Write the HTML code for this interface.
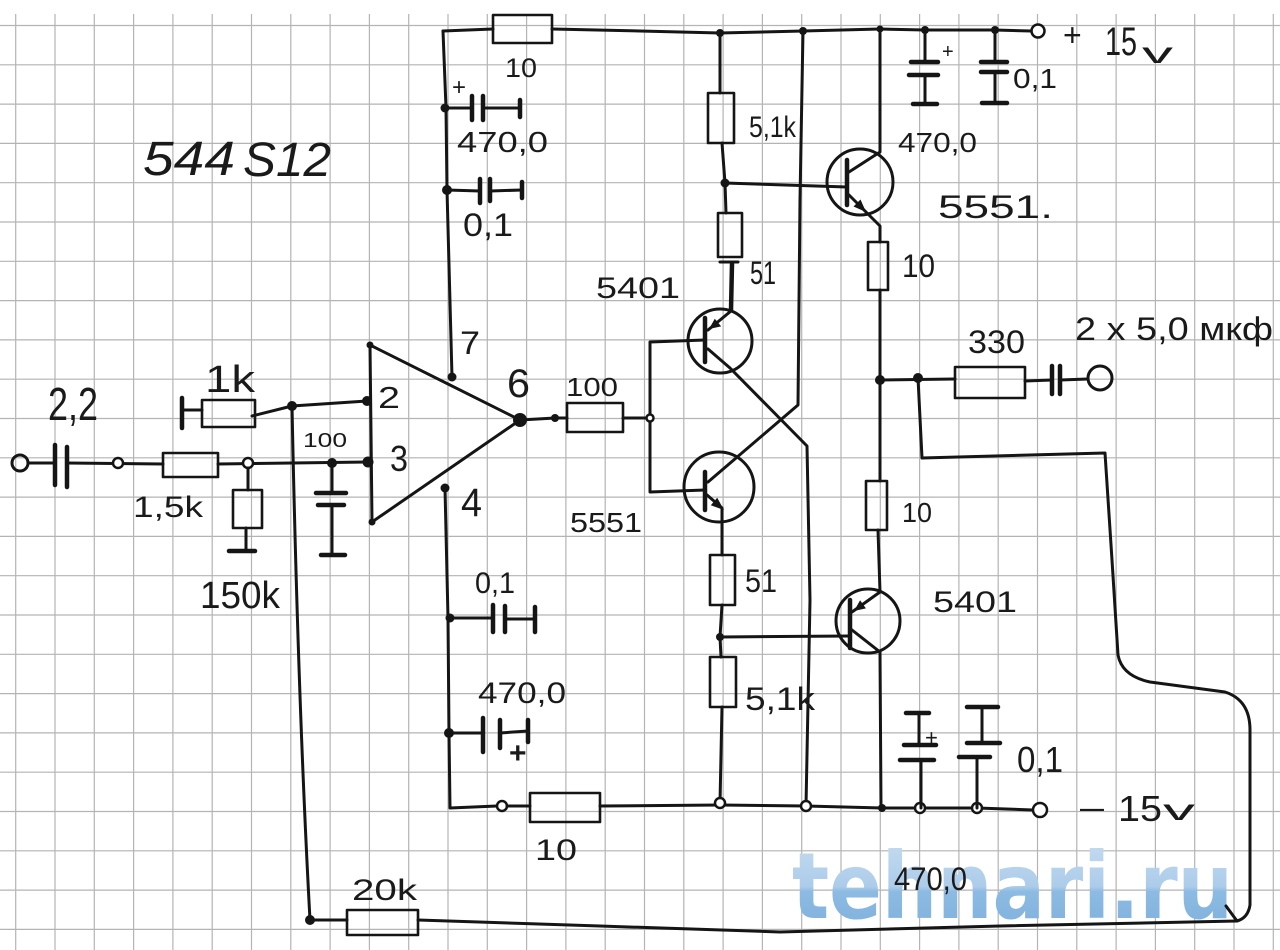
<!DOCTYPE html>
<html>
<head>
<meta charset="utf-8">
<style>
  html,body{margin:0;padding:0;background:#fff;}
  svg{display:block;}
  .w{fill:none;stroke:#151515;stroke-width:3;stroke-linecap:round;stroke-linejoin:round;}
  .b{fill:none;stroke:#151515;stroke-width:2.6;stroke-linejoin:round;}
  .p{fill:none;stroke:#151515;stroke-width:4.5;stroke-linecap:round;}
  .d{fill:#151515;}
  .h{fill:#fff;stroke:#151515;stroke-width:2.5;}
  text{font-family:"Liberation Sans","DejaVu Sans",sans-serif;fill:#1a1a1a;}
</style>
</head>
<body>
<svg width="1280" height="950" viewBox="0 0 1280 950" xmlns="http://www.w3.org/2000/svg">
  <defs>
    <linearGradient id="wm" x1="0" y1="0" x2="0" y2="1">
      <stop offset="0" stop-color="#c8def1"/>
      <stop offset="0.5" stop-color="#acccea"/>
      <stop offset="0.55" stop-color="#8cbae2"/>
      <stop offset="1" stop-color="#7db0dc"/>
    </linearGradient>
  </defs>
  <rect width="1280" height="950" fill="#fff"/>
  <!-- grid -->
  <path fill="none" stroke="#b4b4b4" stroke-width="1.2" d="
    M15.7,14V950 M55,14V950 M94.3,14V950 M133.6,14V950 M172.9,14V950 M212.2,14V950 M251.5,14V950 M290.8,14V950
    M330.1,14V950 M369.4,14V950 M408.7,14V950 M448,14V950 M487.3,14V950 M526.6,14V950 M565.9,14V950 M605.2,14V950
    M644.5,14V950 M683.8,14V950 M723.1,14V950 M762.4,14V950 M801.7,14V950 M841,14V950 M880.3,14V950 M919.6,14V950
    M958.9,14V950 M998.2,14V950 M1037.5,14V950 M1076.8,14V950 M1116.1,14V950 M1155.4,14V950 M1194.7,14V950 M1234,14V950 M1273.3,14V950
    M0,25.5H1280 M0,64.8H1280 M0,104.1H1280 M0,143.4H1280 M0,182.7H1280 M0,222H1280 M0,261.3H1280 M0,300.6H1280
    M0,339.9H1280 M0,379.2H1280 M0,418.5H1280 M0,457.8H1280 M0,497.1H1280 M0,536.4H1280 M0,575.7H1280 M0,615H1280
    M0,654.3H1280 M0,693.6H1280 M0,732.9H1280 M0,772.2H1280 M0,811.5H1280 M0,850.8H1280 M0,890.1H1280 M0,929.4H1280"/>

  <!-- watermark -->
  <text x="792" y="918" font-size="92" font-weight="bold" textLength="441" lengthAdjust="spacingAndGlyphs" style="fill:url(#wm);font-family:'DejaVu Sans',sans-serif;">tehnari.ru</text>

  <!-- ===== top rail ===== -->
  <path class="w" d="M443,31 L493,29 M552,29 L640,31 L720,33 L803,31 L880,29 L925,30 L995,30 L1031,31"/>
  <rect class="b" x="493" y="15" width="59" height="28"/>
  <circle class="h" cx="1038" cy="31" r="6.5"/>
  <circle class="d" cx="720" cy="33" r="4"/>
  <circle class="d" cx="803" cy="31" r="4"/>
  <circle class="d" cx="880" cy="29" r="3.5"/>
  <circle class="d" cx="925" cy="30" r="4"/>
  <circle class="d" cx="995" cy="30" r="4"/>

  <!-- left vertical (pin 7) -->
  <path class="w" d="M443,31 L446,108 L447,190 L452,377"/>
  <circle class="d" cx="445" cy="108" r="4.5"/>
  <circle class="d" cx="447" cy="190" r="5"/>
  <!-- 470,0 top-left -->
  <path class="w" d="M445,108 L472,108 M483,108 L520,108"/>
  <path class="p" d="M472,96 V120 M483,96 V120 M520,100 V117"/>
  <!-- 0,1 top-left -->
  <path class="w" d="M447,190 L480,191 M490,191 L522,190"/>
  <path class="p" d="M480,179 V203 M490,179 V201 M522,182 V198"/>

  <!-- upper 5.1k / 51 column -->
  <path class="w" d="M720,33 L720,93 M722,143 L725,183 L726,213 M725,183 L847,187"/>
  <rect class="b" x="708" y="93" width="26" height="50"/>
  <circle class="d" cx="725" cy="183" r="4.5"/>
  <rect class="b" x="718" y="213" width="24" height="44"/>
  <path class="w" d="M720,262 L738,262"/>
  <path class="p" d="M732,264 L731,310"/>

  <!-- vertical from rail to crossing, to lower transistor collector -->
  <path class="w" d="M803,31 L800,200 L798,405 L708,482"/>
  <!-- upper transistor collector to bottom rail -->
  <path class="w" d="M708,349 L730,368 L807,446 L810,600 L806,806"/>

  <!-- upper PNP transistor (5401) -->
  <circle class="w" cx="720" cy="341" r="32"/>
  <path class="p" d="M705,318 V362"/>
  <path class="w" d="M708,330 L731,311"/>
  <polygon class="d" points="709,329 721.2,326.4 714.8,318.7"/>
  <path class="w" d="M650,342 L705,340 M650,342 L650,492 L705,490"/>

  <!-- lower NPN transistor (5551) -->
  <circle class="w" cx="719" cy="487" r="35"/>
  <path class="p" d="M705,472 V510"/>
  <path class="w" d="M707,495 L722,508 L722,555"/>
  <polygon class="d" points="724,510 710.8,505.3 717.2,497.7"/>
  <rect class="b" x="710" y="555" width="25" height="50"/>
  <path class="w" d="M722,605 L720,637 L721,657 M720,637 L850,636"/>
  <circle class="d" cx="720" cy="637" r="4"/>
  <rect class="b" x="710" y="657" width="26" height="50"/>
  <path class="w" d="M722,707 L720,803"/>

  <!-- 100 resistor -->
  <path class="w" d="M520,420 L555,418 L567,418 M623,418 L650,418"/>
  <rect class="b" x="567" y="403" width="56" height="29"/>
  <circle class="d" cx="555" cy="418" r="4"/>
  <circle class="h" cx="650" cy="418" r="3.5"/>

  <!-- op-amp -->
  <path class="w" d="M370,345 L520,420 L372,522 Z"/>
  <circle class="d" cx="370" cy="345" r="3.5"/>
  <circle class="d" cx="372" cy="522" r="3.5"/>
  <circle class="d" cx="452" cy="377" r="4.5"/>
  <circle class="d" cx="445" cy="488" r="4.5"/>
  <circle class="d" cx="520" cy="420" r="7"/>
  <circle class="d" cx="367" cy="401" r="5"/>
  <circle class="d" cx="368" cy="462" r="5.5"/>

  <!-- pin 4 vertical and bottom-left caps -->
  <path class="w" d="M445,488 L448,618 L449,733 L450,808 L497,806"/>
  <circle class="d" cx="450" cy="618" r="4.5"/>
  <path class="w" d="M450,618 L493,618 M505,619 L535,619"/>
  <path class="p" d="M493,605 V632 M505,606 V632 M535,607 V632"/>
  <circle class="d" cx="449" cy="733" r="5"/>
  <path class="w" d="M449,733 L483,733 M500,733 L528,731"/>
  <path class="p" d="M483,718 V752 M500,720 V748 M528,720 V742"/>
  <circle class="h" cx="502" cy="806" r="5"/>

  <!-- bottom rail -->
  <rect class="b" x="530" y="793" width="70" height="29"/>
  <path class="w" d="M507,806 L530,806 M600,806 L720,805 L806,806 L882,808 L920,808 L977,808 L1033,810"/>
  <circle class="h" cx="1040" cy="810" r="7"/>
  <circle class="h" cx="720" cy="803" r="5"/>
  <circle class="h" cx="806" cy="806" r="5"/>
  <circle class="d" cx="882" cy="808" r="4"/>
  <circle class="h" cx="920" cy="808" r="5"/>
  <circle class="h" cx="977" cy="808" r="5"/>

  <!-- top-right NPN (5551) -->
  <circle class="w" cx="860" cy="182" r="33"/>
  <path class="p" d="M847,160 V205"/>
  <path class="w" d="M849,172 L880,152 L880,29"/>
  <path class="w" d="M849,195 L866,212 L880,226 L880,242"/>
  <polygon class="d" points="866,212 853.5,206.5 860.5,199.5"/>
  <rect class="b" x="868" y="242" width="20" height="48"/>
  <path class="w" d="M880,290 L880,380"/>

  <!-- top-right caps -->
  <path class="w" d="M925,30 L925,62 M925,75 L925,103 M995,30 L995,62 M995,72 L995,102"/>
  <path class="p" d="M911,62 H938 M909,75 H938 M913,104 H937 M981,62 H1007 M981,72 H1007 M982,103 H1007"/>

  <!-- output -->
  <circle class="d" cx="880" cy="380" r="5"/>
  <circle class="d" cx="918" cy="378" r="5"/>
  <path class="w" d="M880,380 L955,379 M1025,381 L1052,380 M1060,380 L1088,379"/>
  <rect class="b" x="955" y="367" width="70" height="31"/>
  <path class="p" d="M1052,366 V394 M1060,366 V394"/>
  <circle class="w" cx="1100" cy="378" r="12"/>

  <!-- lower-right PNP (5401) -->
  <rect class="b" x="866" y="481" width="21" height="49"/>
  <path class="w" d="M880,380 L880,481 M878,530 L880,592 L852,612"/>
  <circle class="w" cx="868" cy="621" r="32"/>
  <path class="p" d="M850,600 V648"/>
  <polygon class="d" points="854,611 865.9,608.4 860.1,600.2"/>
  <path class="w" d="M852,630 L880,652 L881,808"/>

  <!-- bottom-right caps -->
  <path class="w" d="M919,713 L919,745 M921,760 L921,808 M982,707 L982,743 M977,757 L977,808"/>
  <path class="p" d="M906,713 H929 M904,745 H936 M900,760 H934 M967,707 H998 M967,743 H1000 M959,757 H990"/>

  <!-- feedback loop -->
  <path class="w" d="M918,378 L922,458 L1105,453 L1112,560 L1118,655 Q1122,676 1150,682 L1225,692 Q1250,700 1250,730 L1250,905 Q1248,918 1237,921 M1226,906 L1237,921"/>
  <path class="w" d="M1237,921 L1000,926 L780,932 L600,926 L418,920"/>
  <rect class="b" x="347" y="910" width="71" height="25"/>
  <path class="w" d="M347,920 L310,920 Q298,700 292,406"/>
  <circle class="d" cx="310" cy="920" r="5"/>

  <!-- input section -->
  <circle class="w" cx="20" cy="463" r="8"/>
  <path class="w" d="M28,463 L55,463 M67,463 L163,464 M218,464 L368,462"/>
  <path class="p" d="M55,445 V485 M67,447 V487"/>
  <circle class="h" cx="118" cy="463" r="5"/>
  <rect class="b" x="163" y="453" width="55" height="24"/>
  <circle class="h" cx="248" cy="463" r="5"/>
  <circle class="d" cx="332" cy="463" r="5"/>
  <path class="w" d="M248,468 L248,490 M246,528 L246,551"/>
  <rect class="b" x="233" y="490" width="29" height="38"/>
  <path class="p" d="M229,551 H255"/>
  <path class="w" d="M332,463 L332,493 M332,505 L332,555"/>
  <path class="p" d="M316,493 H346 M318,505 H344 M321,555 H345"/>
  <!-- 1k -->
  <path class="p" d="M182,398 V428"/>
  <path class="w" d="M182,410 L202,410 M252,416 L292,406 L367,401"/>
  <rect class="b" x="202" y="400" width="53" height="27"/>
  <circle class="d" cx="292" cy="406" r="5"/>

  <!-- ===== labels ===== -->
  <text x="143" y="175" font-size="48" font-style="italic" textLength="92" lengthAdjust="spacingAndGlyphs">544</text>
  <text x="243" y="176" font-size="48" font-style="italic" textLength="88" lengthAdjust="spacingAndGlyphs">S12</text>

  <text x="505" y="77" font-size="27" textLength="32" lengthAdjust="spacingAndGlyphs">10</text>
  <text x="452" y="95" font-size="24">+</text>
  <text x="457" y="152" font-size="29" textLength="91" lengthAdjust="spacingAndGlyphs">470,0</text>
  <text x="463" y="236" font-size="32" textLength="50" lengthAdjust="spacingAndGlyphs">0,1</text>
  <text x="749" y="137" font-size="30" textLength="47" lengthAdjust="spacingAndGlyphs">5,1k</text>
  <text x="750" y="284" font-size="32" textLength="26" lengthAdjust="spacingAndGlyphs">51</text>
  <text x="596" y="298" font-size="30" textLength="84" lengthAdjust="spacingAndGlyphs">5401</text>
  <text x="460" y="354" font-size="32" textLength="20" lengthAdjust="spacingAndGlyphs">7</text>
  <text x="507" y="397" font-size="40" textLength="23" lengthAdjust="spacingAndGlyphs">6</text>
  <text x="566" y="396" font-size="26" textLength="52" lengthAdjust="spacingAndGlyphs">100</text>
  <text x="378" y="408" font-size="31" textLength="22" lengthAdjust="spacingAndGlyphs">2</text>
  <text x="390" y="471" font-size="36" textLength="18" lengthAdjust="spacingAndGlyphs">3</text>
  <text x="461" y="516" font-size="40" textLength="21" lengthAdjust="spacingAndGlyphs">4</text>
  <text x="570" y="532" font-size="28" textLength="72" lengthAdjust="spacingAndGlyphs">5551</text>
  <text x="745" y="592" font-size="32" textLength="32" lengthAdjust="spacingAndGlyphs">51</text>

  <text x="48" y="420" font-size="46" textLength="50" lengthAdjust="spacingAndGlyphs">2,2</text>
  <text x="205" y="392" font-size="38" textLength="50" lengthAdjust="spacingAndGlyphs">1k</text>
  <text x="133" y="517" font-size="30" textLength="70" lengthAdjust="spacingAndGlyphs">1,5k</text>
  <text x="303" y="447" font-size="20" textLength="44" lengthAdjust="spacingAndGlyphs">100</text>
  <text x="200" y="608" font-size="38" textLength="80" lengthAdjust="spacingAndGlyphs">150k</text>

  <text x="475" y="593" font-size="30" textLength="40" lengthAdjust="spacingAndGlyphs">0,1</text>
  <text x="478" y="703" font-size="30" textLength="88" lengthAdjust="spacingAndGlyphs">470,0</text>
  <text x="509" y="763" font-size="30" font-weight="bold">+</text>
  <text x="535" y="860" font-size="30" textLength="42" lengthAdjust="spacingAndGlyphs">10</text>
  <text x="352" y="900" font-size="30" textLength="65" lengthAdjust="spacingAndGlyphs">20k</text>

  <text x="1063" y="46" font-size="32">+</text>
  <text x="1105" y="55" font-size="40" textLength="32" lengthAdjust="spacingAndGlyphs">15</text>
  <text x="1142" y="63" font-size="30" textLength="31" lengthAdjust="spacingAndGlyphs">v</text>
  <text x="942" y="58" font-size="20">+</text>
  <text x="1013" y="88" font-size="28" textLength="44" lengthAdjust="spacingAndGlyphs">0,1</text>
  <text x="898" y="152" font-size="28" textLength="79" lengthAdjust="spacingAndGlyphs">470,0</text>
  <text x="938" y="218" font-size="32" textLength="115" lengthAdjust="spacingAndGlyphs">5551.</text>
  <text x="902" y="277" font-size="32" textLength="33" lengthAdjust="spacingAndGlyphs">10</text>
  <text x="968" y="353" font-size="32" textLength="57" lengthAdjust="spacingAndGlyphs">330</text>
  <text x="1075" y="340" font-size="32" textLength="198" lengthAdjust="spacingAndGlyphs">2 x 5,0 мкф</text>
  <text x="902" y="522" font-size="28" textLength="30" lengthAdjust="spacingAndGlyphs">10</text>
  <text x="933" y="612" font-size="30" textLength="84" lengthAdjust="spacingAndGlyphs">5401</text>
  <text x="745" y="710" font-size="32" textLength="70" lengthAdjust="spacingAndGlyphs">5,1k</text>
  <text x="925" y="745" font-size="22">+</text>
  <text x="1017" y="772" font-size="36" textLength="46" lengthAdjust="spacingAndGlyphs">0,1</text>
  <text x="1080" y="818" font-size="32" textLength="24" lengthAdjust="spacingAndGlyphs">–</text>
  <text x="1118" y="821" font-size="36" textLength="44" lengthAdjust="spacingAndGlyphs">15</text>
  <text x="1163" y="820" font-size="30" textLength="32" lengthAdjust="spacingAndGlyphs">v</text>
  <text x="894" y="890" font-size="32" textLength="73" lengthAdjust="spacingAndGlyphs">470,0</text>
</svg>
</body>
</html>
